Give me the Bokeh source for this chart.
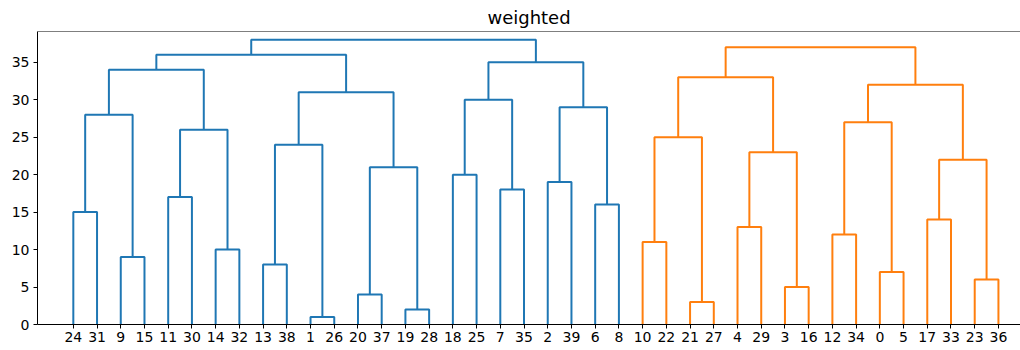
from bokeh.plotting import figure
from bokeh.models import FixedTicker, Span, Range1d
from bokeh.embed import file_html
from bokeh.resources import INLINE

# Leaf labels in the order they appear along the x axis
leaf_order = [24, 31, 9, 15, 11, 30, 14, 32, 13, 38, 1, 26, 20, 37, 19, 28,
              18, 25, 7, 35, 2, 39, 6, 8, 10, 22, 21, 27, 4, 29, 3, 16,
              12, 34, 0, 5, 17, 33, 23, 36]

# Linkage table: ids < 40 are leaves, id 40 + k is the cluster made by row k
merge_left = [1, 19, 21, 20, 3, 23, 0, 13, 9, 14, 10, 12, 4, 17, 24, 6, 11, 7, 2, 18,
              43, 53, 52, 47, 50, 56, 51, 54, 58, 59, 63, 66, 64, 67, 69, 73, 72, 75]
merge_right = [26, 28, 27, 37, 16, 36, 5, 38, 15, 32, 22, 34, 29, 33, 31, 8, 30, 35, 39, 25,
               41, 45, 44, 40, 42, 49, 46, 48, 55, 57, 60, 61, 62, 65, 68, 70, 71, 74]
merge_height = [1, 2, 3, 4, 5, 6, 7, 8, 9, 10, 11, 12, 13, 14, 15, 16, 17, 18, 19, 20,
                21, 22, 23, 24, 25, 26, 27, 28, 29, 30, 31, 32, 33, 34, 35, 36, 37, 38]

y_ticks = [0, 5, 10, 15, 20, 25, 30, 35]
palette = ["#1f77b4", "#ff7f0e"]

n_leaves = len(leaf_order)
pos = {leaf: i for i, leaf in enumerate(leaf_order)}
height = {leaf: 0.0 for leaf in leaf_order}

# Position every cluster above the midpoint of its two children
for k, (a, b, h) in enumerate(zip(merge_left, merge_right, merge_height)):
    node = n_leaves + k
    pos[node] = (pos[a] + pos[b]) / 2.0
    height[node] = h

# Colour each tree by its root, roots ordered left to right
children = {n_leaves + k: (a, b) for k, (a, b) in enumerate(zip(merge_left, merge_right))}
used = set(merge_left) | set(merge_right)
roots = sorted([n for n in children if n not in used], key=lambda n: pos[n])
node_color = {}
for ci, r in enumerate(roots):
    stack = [r]
    while stack:
        n = stack.pop()
        if n in children:
            node_color[n] = palette[ci % len(palette)]
            stack.extend(children[n])

xs, ys, cols = [], [], []
for k, (a, b, h) in enumerate(zip(merge_left, merge_right, merge_height)):
    xs.append([pos[a], pos[a], pos[b], pos[b]])
    ys.append([height[a], h, h, height[b]])
    cols.append(node_color[n_leaves + k])

y_top = 39.1
p = figure(width=1020, height=350, output_backend="svg", toolbar_location=None,
           x_range=Range1d(-1.51, 39.93), y_range=Range1d(0, y_top),
           min_border_left=37, min_border_right=0, min_border_top=0, min_border_bottom=26,
           title="weighted")
p.multi_line(xs=xs, ys=ys, line_color=cols, line_width=2)

p.title.align = "center"
p.title.text_font = "DejaVu Sans"
p.title.text_font_style = "normal"
p.title.text_font_size = "18px"
p.title.text_color = "black"
p.title.standoff = 8
p.title.offset = 0

p.grid.visible = False
p.outline_line_color = None
p.background_fill_color = "white"
p.border_fill_color = "white"

p.xaxis.ticker = FixedTicker(ticks=list(range(n_leaves)))
p.xaxis.major_label_overrides = {i: str(l) for i, l in enumerate(leaf_order)}
p.yaxis.ticker = FixedTicker(ticks=y_ticks)

for ax in (p.xaxis[0], p.yaxis[0]):
    ax.axis_line_color = "black"
    ax.axis_line_width = 1
    ax.major_tick_line_color = "black"
    ax.major_tick_in = 0
    ax.major_tick_out = 4
    ax.minor_tick_line_color = None
    ax.major_label_text_font = "DejaVu Sans"
    ax.major_label_text_font_size = "14px"
    ax.major_label_text_color = "black"
p.xaxis.major_label_standoff = 3
p.yaxis.major_label_standoff = 4

p.add_layout(Span(location=y_top, dimension="width", line_color="black", line_width=1))

open("out.html", "w").write(file_html(p, INLINE))
